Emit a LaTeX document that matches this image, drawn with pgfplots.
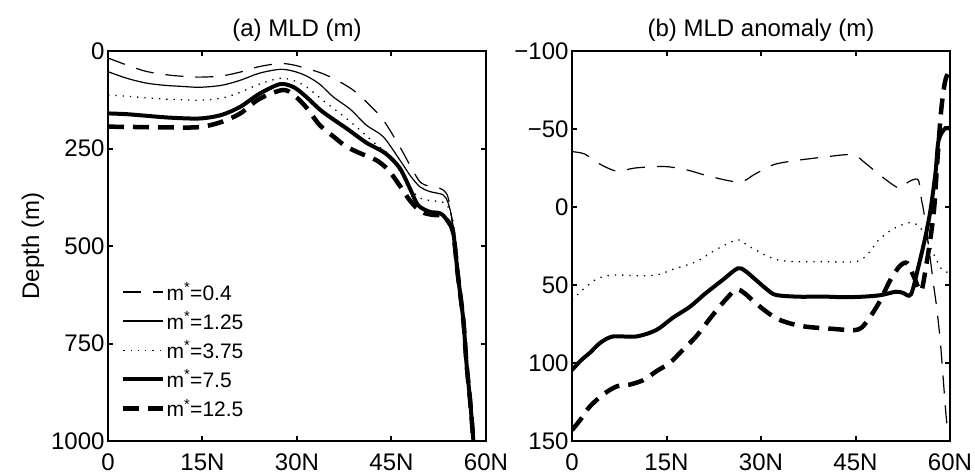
\documentclass[border=0pt]{standalone}
\usepackage{fontspec}
\setmainfont{Liberation Sans}
\usepackage{pgfplots}
\pgfplotsset{compat=1.18}

\pgfplotsset{
  panel/.style={
    scale only axis, width=378pt, height=390pt,
    xmin=0, xmax=60,
    xtick={0,15,30,45,60}, xticklabels={0,15N,30N,45N,60N},
    y dir=reverse,
    tick align=inside, tick pos=both, major tick length=5pt,
    axis line style={line width=2.5pt},
    every tick/.style={line width=2pt, black},
    ticklabel style={font=\fontsize{24}{28}\selectfont},
    xticklabel style={yshift=-9pt},
    title style={font=\fontsize{24}{28}\selectfont, yshift=0pt},
    label style={font=\fontsize{24}{28}\selectfont},
    every axis plot/.append style={no marks, smooth, black},
  },
  s04/.style={line width=1.2pt, dash pattern=on 18pt off 12pt},
  s125/.style={line width=1.2pt},
  s375/.style={line width=1.3pt, dash pattern=on 1.3pt off 6pt},
  s75/.style={line width=4pt},
  s12/.style={line width=4.5pt, dash pattern=on 16pt off 9pt},
}

\begin{document}
\begin{tikzpicture}
\useasboundingbox (-108pt,-34pt) rectangle (867pt,441pt);

% (a) MLD
\begin{axis}[panel,
  title={(a) MLD (m)},
  ylabel={Depth (m)},
  ymin=0, ymax=1000,
  ytick={0,250,500,750,1000}, yticklabels={0,250,500,750,1000},
  legend style={at={(0.026,0.415)}, anchor=north west, draw=none, fill=none,
    font=\fontsize{21}{25}\selectfont, row sep=8pt,
    nodes={inner sep=1pt, font=\fontsize{21}{25}\selectfont}},
  legend cell align=left,
  legend image code/.code={\draw[#1] (0pt,0pt) -- (40pt,0pt);},
]
\addplot[s04] coordinates {(0,18) (3,36) (6,52) (9.3,61) (12,65) (14.6,67) (18,64) (21,54) (24,40) (27.3,32) (29.5,36) (31.5,45) (33.6,55) (36,72) (38.9,100) (41.3,135) (43.7,177) (46.3,245) (48,295) (49.5,335) (51,347) (52.7,352) (53.8,367) (54.4,410) (54.8,467) (55.5,570) (56.4,690) (56.9,800) (57.5,900) (58,1000)};
\addplot[s125] coordinates {(0,53) (3,70) (6,82) (9,88) (12,91) (14.6,93) (18,88) (21,75) (24,57) (27.3,47) (29.5,52) (31.5,64) (33.6,85) (35.7,117) (38.5,150) (41,190) (43.7,220) (46.3,279) (48,320) (49.5,348) (51,360) (53.2,369) (54,390) (54.6,430) (55,480) (55.5,570) (56.4,690) (56.9,800) (57.5,900) (58,1000)};
\addplot[s375] coordinates {(0,113) (3,116) (6,120) (10,124) (14.6,126) (18,121) (21,106) (24,85) (27.3,70) (29.5,76) (31.5,92) (34,125) (38,175) (40.5,210) (42.6,240) (44.5,265) (46,300) (47.8,345) (49.2,374) (51,383) (53.2,388) (54.2,405) (54.8,440) (55.3,500) (55.8,580) (56.4,690) (56.9,800) (57.5,900) (58,1000)};
\addplot[s75] coordinates {(0,160) (3,162) (6,166) (10,171) (14.6,173) (18,164) (21,143) (24,110) (27.3,85) (29.5,93) (31.5,118) (34,155) (38,200) (41,235) (44,262) (46.3,300) (48,355) (49.2,395) (51,412) (52.7,416) (53.8,433) (54.8,467) (55.5,570) (56.4,690) (56.9,800) (57.5,900) (58,1000)};
\addplot[s12] coordinates {(0,194) (5,195) (10,196) (14.6,195) (18,182) (21,160) (24,123) (27.7,100) (29.5,113) (31.5,145) (33.6,190) (36,222) (37.8,245) (40,262) (42.6,280) (44.5,305) (46.3,345) (48,385) (49.7,412) (51.5,420) (53,422) (54,437) (54.8,467) (55.5,570) (56.4,690) (56.9,800) (57.5,900) (58,1000)};
\legend{m\textsuperscript{*}=0.4, m\textsuperscript{*}=1.25, m\textsuperscript{*}=3.75, m\textsuperscript{*}=7.5, m\textsuperscript{*}=12.5}
\end{axis}

% (b) MLD anomaly
\begin{axis}[panel, at={(464pt,0pt)},
  title={(b) MLD anomaly (m)},
  ymin=-100, ymax=150,
  ytick={-100,-50,0,50,100,150}, yticklabels={−100,−50,0,50,100,150},
]
\addplot[s04] coordinates {(0,-35.5) (2,-34) (4.2,-28) (7.1,-23) (10,-25) (14.5,-26) (18,-24) (22,-19.5) (26.6,-16) (29,-21) (31.9,-27) (35,-29.5) (40,-32) (44.5,-33.5) (46.6,-28) (49,-20) (51.9,-12) (53,-15) (54,-17.3) (55,-17) (55.5,-4) (55.8,2) (56.6,25) (57.4,50) (57.9,65) (58.5,88) (59.3,130) (59.6,142)};
\addplot[s375] coordinates {(0,59.6) (2,52) (4,46) (6.5,43.6) (10,44) (13.4,43.6) (16,40) (19.7,35) (23,27) (26.3,21) (28,25) (31.9,33) (35,35) (39.8,35) (45.1,35) (47,30) (48.7,21) (51,14) (53.5,10) (55,12) (56,18) (57.1,27.6) (58.7,40) (60,42)};
\addplot[s75] coordinates {(0,104.5) (1.5,98) (2.8,93.6) (4.5,87) (6.5,83) (10.2,83) (13.4,78.8) (16,71) (18.7,64) (21,56) (23.9,46.8) (26.3,39.3) (27.5,41) (29.2,46.8) (31,53) (32.4,56.4) (36,57.5) (39.8,57.4) (43,57.8) (46.1,57.5) (49,56.5) (51.4,54.3) (52.5,55) (53.8,56) (55,38) (56.1,19) (56.9,2) (57.7,-22) (58.2,-43) (59.3,-50.6) (60,-50)};
\addplot[s12] coordinates {(0,143) (1.4,136) (2.8,128) (5,120) (7.1,115) (9,114) (11.3,111) (13.5,105) (15.5,100) (17.5,92) (19.7,83) (21.8,72) (23.9,61.6) (26,53) (27.3,55) (28.7,60) (30.5,66) (32.4,71.3) (34.5,74.5) (37.1,76.7) (41,78) (45.1,78.8) (46.6,74.5) (48.7,61.6) (50.5,47) (52,38) (53.2,36) (54.3,45) (55.4,54) (56.2,38) (56.9,20) (57.5,0) (58,-30) (58.6,-62) (59.2,-80) (59.7,-86) (60,-88)};
\end{axis}
\end{tikzpicture}
\end{document}
